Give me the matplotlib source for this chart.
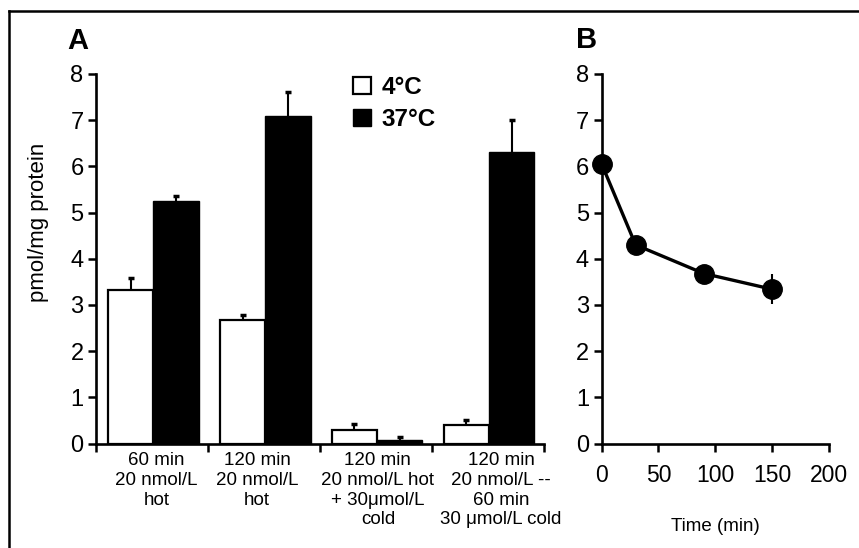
import matplotlib
matplotlib.use("Agg")
import matplotlib.pyplot as plt
from matplotlib.lines import Line2D
from matplotlib.patches import Patch
import numpy as np

plt.rcParams['font.family'] = ['Liberation Sans', 'DejaVu Sans']

# ---------------- data ----------------
categories = ["60 min\n20 nmol/L\nhot",
              "120 min\n20 nmol/L\nhot",
              "120 min\n20 nmol/L hot\n+ 30μmol/L\ncold",
              "120 min\n20 nmol/L --\n60 min\n30 μmol/L cold"]
series_names = ["4°C", "37°C"]
vals_4C = [3.33, 2.68, 0.30, 0.39]
err_4C = [0.26, 0.11, 0.12, 0.11]
vals_37C = [5.24, 7.08, 0.08, 6.31]
err_37C = [0.11, 0.52, 0.06, 0.70]

time_min = [0, 30, 90, 150]
uptake_b = [6.06, 4.30, 3.68, 3.34]
err_b = [0.12, 0.20, 0.12, 0.32]

y_ticks = [0, 1, 2, 3, 4, 5, 6, 7, 8]
x_ticks_b = [0, 50, 100, 150, 200]

# ---------------- figure ----------------
W, H = 859, 548
fig = plt.figure(figsize=(W / 100, H / 100), dpi=100)

def fx(px):
    return px / W

def fy(py):
    return 1 - py / H

y0_px, y8_px = 443.5, 74.0
axA = fig.add_axes([fx(96), fy(y0_px), fx(543.5) - fx(96), fy(y8_px) - fy(y0_px)])
axB = fig.add_axes([fx(601.5), fy(y0_px), fx(829) - fx(601.5), fy(y8_px) - fy(y0_px)])

lw_axis = 1.9
for ax in (axA, axB):
    for s in ('top', 'right'):
        ax.spines[s].set_visible(False)
    for s in ('left', 'bottom'):
        ax.spines[s].set_linewidth(lw_axis)
    ax.set_ylim(0, 8)
    ax.set_yticks(y_ticks)
    ax.tick_params(axis='y', direction='out', length=6, width=1.8, labelsize=17, pad=3)

# ---------------- panel A ----------------
n = len(categories)
idx = np.arange(n)
bw = 0.405
xw = idx + 0.31
xb = idx + 0.715
v4 = np.array(vals_4C)
v37 = np.array(vals_37C)
top4 = v4 + np.array(err_4C)
top37 = v37 + np.array(err_37C)

# error stems (upper only) with small caps
axA.vlines(xb, v37, top37, color='black', lw=1.5, zorder=1)
axA.plot(xb, top37, linestyle='none', marker='_', markersize=5, mew=2.5, color='black', zorder=1)
axA.bar(xw, v4, width=bw, color='white', edgecolor='black', linewidth=1.6, zorder=2)
axA.bar(xb, v37, width=bw, color='black', edgecolor='black', linewidth=1.0, zorder=2)
axA.vlines(xw, v4, top4, color='black', lw=1.5, zorder=3)
axA.plot(xw, top4, linestyle='none', marker='_', markersize=5, mew=2.5, color='black', zorder=3)

axA.set_xlim(0, n)
axA.set_xticks(np.arange(n + 1))
axA.set_xticklabels([])
axA.tick_params(axis='x', which='major', direction='out', length=6, width=1.8)
axA.set_xticks([0.54, 1.44, 2.52, 3.62], minor=True)
axA.set_xticklabels(categories, minor=True, fontsize=13.5, linespacing=1.22)
axA.tick_params(axis='x', which='minor', length=0, pad=6)

handles = [Patch(facecolor='white', edgecolor='black', linewidth=1.6),
           Patch(facecolor='black', edgecolor='black')]
leg = axA.legend(handles, series_names, loc='upper left',
                 bbox_to_anchor=((353 - 96) / 447.5, (y0_px - 76) / (y0_px - y8_px)),
                 frameon=False, borderpad=0, borderaxespad=0,
                 handlelength=0.72, handleheight=0.72, handletextpad=0.45,
                 labelspacing=0.36, prop={'weight': 'bold', 'size': 17.5})

fig.text(fx(39), fy(222), "pmol/mg protein", rotation=90, ha='center', va='center', fontsize=16)

# ---------------- panel B ----------------
axB.errorbar(time_min, uptake_b, yerr=err_b, fmt='-o', color='black', lw=2.4,
             markersize=14, elinewidth=1.5, capsize=0, clip_on=False, zorder=3)
axB.set_xlim(0, 200)
axB.set_xticks(x_ticks_b)
axB.tick_params(axis='x', direction='out', length=6, width=1.8, labelsize=16.5, pad=9)
axB.set_xlabel("Time (min)", fontsize=13.5, labelpad=22)

# panel letters
fig.text(fx(67), fy(49), "A", fontsize=21, fontweight='bold', ha='left', va='baseline')
fig.text(fx(576), fy(48.5), "B", fontsize=21, fontweight='bold', ha='left', va='baseline')

# frame lines (left and top)
fig.add_artist(Line2D([fx(9), fx(9)], [0, fy(10.7)], color='black', lw=1.8, transform=fig.transFigure))
fig.add_artist(Line2D([fx(9), 1], [fy(10.7), fy(10.7)], color='black', lw=1.8, transform=fig.transFigure))

fig.savefig("out.png", dpi=100)
